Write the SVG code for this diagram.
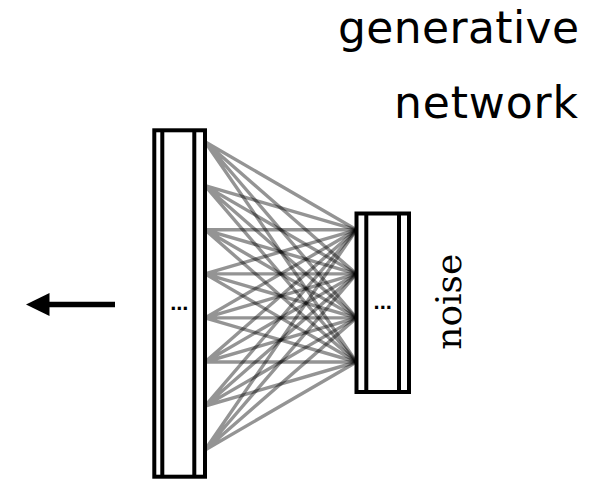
<svg xmlns="http://www.w3.org/2000/svg" width="608" height="479" viewBox="0 0 608 479">
  <style>
    .box { fill: #fff; stroke: #000; stroke-width: 4; }
    .bar { stroke: #000; stroke-width: 4; }
    .edge { stroke: #000; stroke-opacity: 0.42; stroke-width: 3.4; fill: none; }
    .dots { font-family: "Liberation Sans", Arial, sans-serif; font-weight: bold; font-size: 22px; text-anchor: middle; }
    .title { font-family: "DejaVu Sans", "Liberation Sans", sans-serif; font-size: 44px; text-anchor: end; }
    .side { font-family: "DejaVu Serif", "Liberation Serif", serif; font-size: 36px; text-anchor: middle; }
  </style>

  <!-- output layer (8 units) -->
  <g id="layer-output">
    <rect class="box" x="154.3" y="130.3" width="50.7" height="346.4"/>
    <line class="bar" x1="162.3" y1="130.3" x2="162.3" y2="476.7"/>
    <line class="bar" x1="194.3" y1="130.3" x2="194.3" y2="476.7"/>
    <text class="dots" x="179.3" y="310">...</text>
  </g>

  <!-- noise input layer (4 units) -->
  <g id="layer-noise">
    <rect class="box" x="356.5" y="213.5" width="52.5" height="178.5"/>
    <line class="bar" x1="366.3" y1="213.5" x2="366.3" y2="392"/>
    <line class="bar" x1="399" y1="213.5" x2="399" y2="392"/>
    <text class="dots" x="382.7" y="309">...</text>
  </g>

  <!-- fully connected weights: every output unit to every noise unit -->
  <g id="connections">
    <path class="edge" d="M205 141.7L356.5 229.8M205 141.7L356.5 273.9M205 141.7L356.5 317.9M205 141.7L356.5 362"/>
    <path class="edge" d="M205 185.7L356.5 229.8M205 185.7L356.5 273.9M205 185.7L356.5 317.9M205 185.7L356.5 362"/>
    <path class="edge" d="M205 229.8L356.5 229.8M205 229.8L356.5 273.9M205 229.8L356.5 317.9M205 229.8L356.5 362"/>
    <path class="edge" d="M205 273.9L356.5 229.8M205 273.9L356.5 273.9M205 273.9L356.5 317.9M205 273.9L356.5 362"/>
    <path class="edge" d="M205 317.9L356.5 229.8M205 317.9L356.5 273.9M205 317.9L356.5 317.9M205 317.9L356.5 362"/>
    <path class="edge" d="M205 362L356.5 229.8M205 362L356.5 273.9M205 362L356.5 317.9M205 362L356.5 362"/>
    <path class="edge" d="M205 406L356.5 229.8M205 406L356.5 273.9M205 406L356.5 317.9M205 406L356.5 362"/>
    <path class="edge" d="M205 450L356.5 229.8M205 450L356.5 273.9M205 450L356.5 317.9M205 450L356.5 362"/>
  </g>

  <!-- output direction arrow -->
  <g id="output-arrow">
    <line x1="48" y1="304.5" x2="115" y2="304.5" stroke="#000" stroke-width="5.6"/>
    <polygon points="26,304.5 49.5,293 49.5,316" fill="#000"/>
  </g>

  <g id="label-title">
    <text class="title" x="579" y="43.3" textLength="241" lengthAdjust="spacing">generative</text>
    <text class="title" x="578" y="118.3" textLength="184" lengthAdjust="spacing">network</text>
  </g>

  <g id="label-noise">
    <text class="side" transform="translate(460.7,301.7) rotate(-90)">noise</text>
  </g>
</svg>
